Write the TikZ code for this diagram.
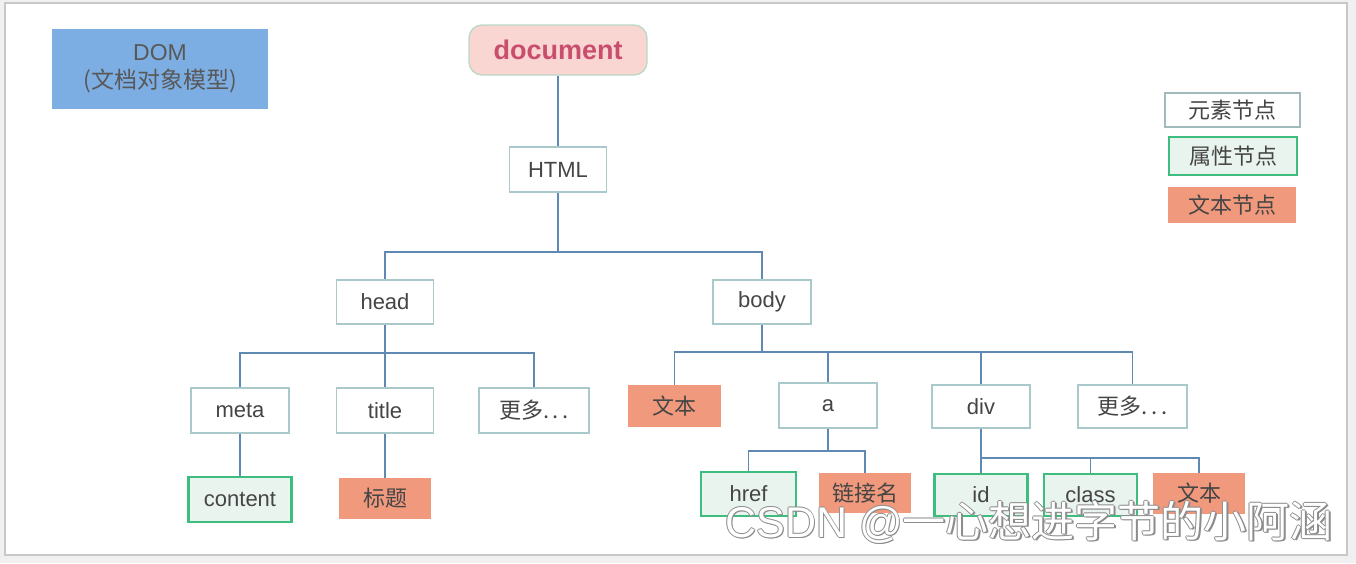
\documentclass[tikz,border=0pt]{standalone}
\usepackage{fontspec}
\setmainfont{Liberation Sans}
\newfontfamily\cjk{Noto Sans CJK SC}
\definecolor{txt}{HTML}{454545}
\definecolor{elemborder}{HTML}{A9C9CA}
\definecolor{attrgreen}{HTML}{3DBE7E}
\definecolor{attrfill}{HTML}{EAF4EF}
\definecolor{salmon}{HTML}{F1997D}
\definecolor{wire}{HTML}{5E89B3}
\definecolor{domblue}{HTML}{7DAEE3}
\definecolor{docfill}{HTML}{F9D6D1}
\definecolor{docborder}{HTML}{B9D9C4}
\definecolor{doctext}{HTML}{C94E6E}
\definecolor{framegray}{HTML}{C8C8C8}
\definecolor{wmgray}{HTML}{8C8C8C}
\tikzset{
  base/.style={inner sep=0pt, text=txt, font=\fontsize{22}{26}\selectfont, anchor=center},
  elem/.style={base, draw=elemborder, line width=1.3pt, fill=white},
  attr/.style={base, draw=attrgreen, line width=2.6pt, fill=attrfill},
  textn/.style={base, fill=salmon},
  wirestyle/.style={draw=wire, line width=1.6pt},
  wm/.style={font=\fontsize{43}{46}\selectfont, anchor=center, inner sep=0pt}
}
\begin{document}
\begin{tikzpicture}[x=1pt,y=-1pt]
\useasboundingbox (0,0) rectangle (1356,563);
\fill[gray!12] (0,0) rectangle (1356,563);
\fill[white] (5,3) rectangle (1347,555);
\draw[framegray, line width=1.5pt] (5,3) rectangle (1347,555);

% title boxes
\node[base, fill=domblue, minimum width=216pt, minimum height=80pt, align=center, font=\fontsize{23}{27}\selectfont, text=txt!90!white] (dom) at (160,69)
  {DOM\\[1pt]{\cjk (文档对象模型)}};
\node[base, fill=docfill, draw=docborder, line width=1.3pt, rounded corners=13pt,
  minimum width=178pt, minimum height=50pt, text=doctext, font=\fontsize{27}{30}\selectfont\bfseries] (doc) at (558,50) {document};

% tree nodes
\node[elem, minimum width=97pt, minimum height=45pt] (html) at (558,169.5) {HTML};
\node[elem, minimum width=97pt, minimum height=44pt] (head) at (385,302) {head};
\node[elem, minimum width=98pt, minimum height=44pt] (body) at (762,302) {body};
\node[elem, minimum width=98pt, minimum height=45pt] (meta) at (240,410.5) {meta};
\node[elem, minimum width=97pt, minimum height=45pt] (title) at (385,410.5) {title};
\node[elem, minimum width=110pt, minimum height=45pt] (more1) at (534,410.5) {\cjk 更多.\,.\,.};
\node[attr, minimum width=103pt, minimum height=45pt] (content) at (240,499.5) {content};
\node[textn, minimum width=92pt, minimum height=41pt] (biaoti) at (385,498.5) {\cjk 标题};
\node[textn, minimum width=93pt, minimum height=42pt] (text1) at (674.5,406) {\cjk 文本};
\node[elem, minimum width=98pt, minimum height=45pt] (a) at (828,405.5) {a};
\node[elem, minimum width=98pt, minimum height=43pt] (div) at (981,406.5) {div};
\node[elem, minimum width=109pt, minimum height=43pt] (more2) at (1132.5,406.5) {\cjk 更多.\,.\,.};
\node[attr, minimum width=95pt, minimum height=44pt] (href) at (748.5,494) {href};
\node[textn, minimum width=92pt, minimum height=40pt] (lnk) at (865,493) {\cjk 链接名};
\node[attr, minimum width=93pt, minimum height=42pt] (id) at (981,495) {id};
\node[attr, minimum width=93pt, minimum height=42pt] (class) at (1090.5,495) {class};
\node[textn, minimum width=92pt, minimum height=41pt] (text2) at (1199,493.5) {\cjk 文本};

% legend
\node[elem, draw=elemborder!80!gray, minimum width=135pt, minimum height=34pt] (lg1) at (1232.5,110) {\cjk 元素节点};
\node[attr, minimum width=128pt, minimum height=38pt] (lg2) at (1233,156) {\cjk 属性节点};
\node[textn, minimum width=128pt, minimum height=36pt] (lg3) at (1232,205) {\cjk 文本节点};

% bus coordinates
\coordinate (busA) at (558,252);
\coordinate (busHead) at (385,353);
\coordinate (busBody) at (762,352);
\coordinate (busLink) at (828,451);
\coordinate (busDiv) at (981,458);

% connectors
\draw[wirestyle] (doc.south) -- (html.north);
\draw[wirestyle] (html.south) -- (busA) -| (head.north);
\draw[wirestyle] (busA) -| (body.north);
\draw[wirestyle] (head.south) -- (busHead) -| (meta.north);
\draw[wirestyle] (busHead) -- (title.north);
\draw[wirestyle] (busHead) -| (more1.north);
\draw[wirestyle] (meta.south) -- (content.north);
\draw[wirestyle] (title.south) -- (biaoti.north);
\draw[wirestyle] (body.south) -- (busBody) -| (text1.north);
\draw[wirestyle] (busBody) -| (a.north);
\draw[wirestyle] (busBody) -| (div.north);
\draw[wirestyle] (busBody) -| (more2.north);
\draw[wirestyle] (a.south) -- (busLink) -| (href.north);
\draw[wirestyle] (busLink) -| (lnk.north);
\draw[wirestyle] (div.south) -- (busDiv) -- (id.north);
\draw[wirestyle] (busDiv) -| (class.north);
\draw[wirestyle] (busDiv) -| (text2.north);

% watermark (outlined look)
\foreach \dx/\dy in {-0.8/0,0.8/0,0/-0.8,0/0.8,1.6/1.6}{
  \node[wm, text=wmgray] at (1029+\dx,522+\dy) {CSDN @{\cjk 一心想进字节的小阿涵}};
}
\node[wm, text=white] (wmark) at (1029,522) {CSDN @{\cjk 一心想进字节的小阿涵}};
\end{tikzpicture}
\end{document}
